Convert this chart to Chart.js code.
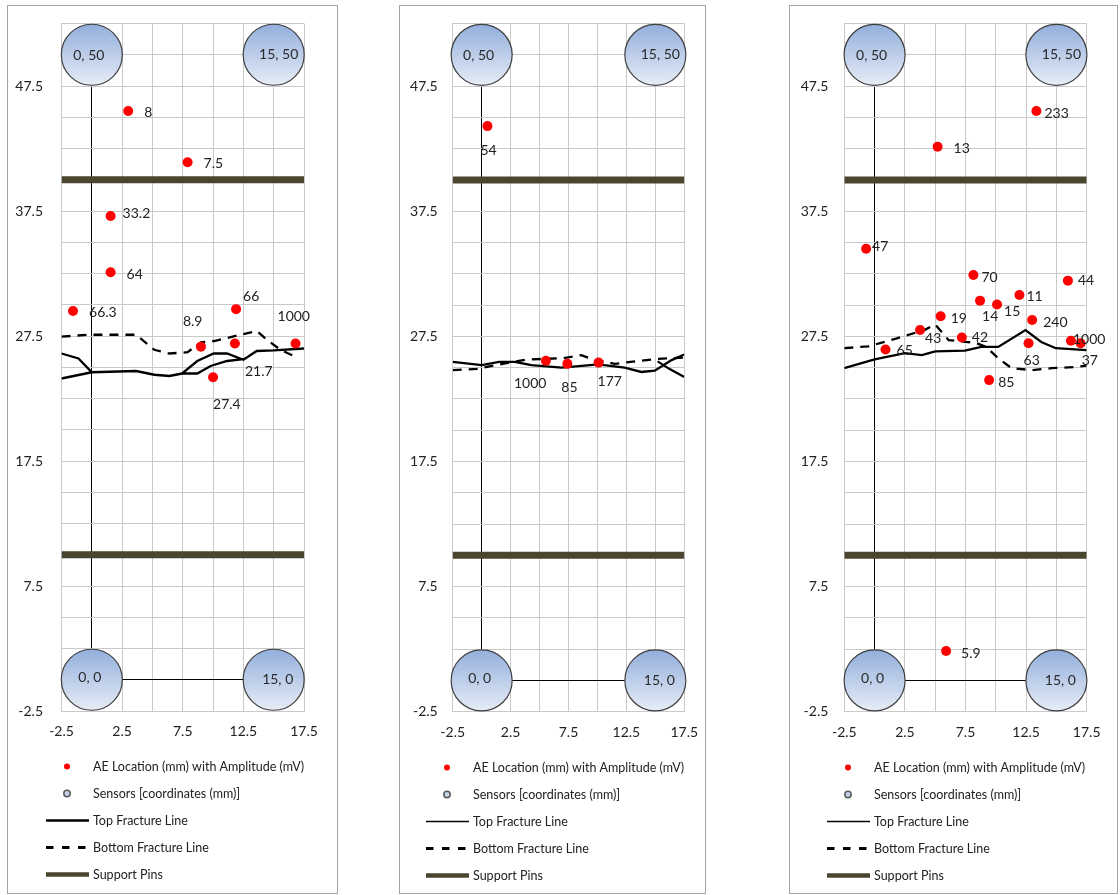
<!DOCTYPE html>
<html>
<head>
<meta charset="utf-8">
<title>AE locations and fracture lines</title>
<script src="https://cdn.jsdelivr.net/npm/chart.js@4.4.1/dist/chart.umd.min.js"></script>
<style>
  html, body { margin: 0; padding: 0; background: #ffffff; }
  .panel { position: absolute; box-sizing: border-box; border: 1px solid #a3a3a3; background: #fff; }
  .panel canvas { position: absolute; left: 0; top: 0; }
</style>
</head>
<body>
<div class="panel" style="left:7px;top:5px;width:331px;height:889px"><canvas id="c1" width="329" height="887"></canvas></div>
<div class="panel" style="left:399px;top:5px;width:307px;height:889px"><canvas id="c2" width="305" height="887"></canvas></div>
<div class="panel" style="left:789px;top:5px;width:329px;height:889px"><canvas id="c3" width="327" height="887"></canvas></div>
<script>
// ---- shared axis ticks ----
const xTickLabels = ['-2.5', '2.5', '7.5', '12.5', '17.5'];
const yTickLabels = ['-2.5', '7.5', '17.5', '27.5', '37.5', '47.5'];

// ---- sensors (mm) ----
const sensorX = [0, 15, 0, 15];
const sensorY = [50, 50, 0, 0];
const sensorLabels = ['0, 50', '15, 50', '0, 0', '15, 0'];

// ---- support pins (mm): each pin spans the full width ----
const pinXStart = -2.5;
const pinXEnd = 17.5;
const pinY = [40, 10];

// ---- specimen 1 ----
const ae1X = [3.0, 7.9, 1.55, 1.55, -1.55, 11.9, 9.0, 11.8, 16.8, 10.0];
const ae1Y = [45.5, 41.4, 37.1, 32.6, 29.5, 29.65, 26.65, 26.9, 26.9, 24.2];
const ae1Amp = ['8', '7.5', '33.2', '64', '66.3', '66', '8.9', '21.7', '1000', '27.4'];
const top1aX = [-2.5, -1.1, 0, 3.65, 5.15, 6.4, 7.45, 8.7, 10.05, 11.15, 12.5, 13.6, 15.0, 17.5];
const top1aY = [26.1, 25.7, 24.6, 24.7, 24.4, 24.3, 24.5, 25.5, 26.1, 26.1, 25.6, 26.3, 26.35, 26.5];
const top1bX = [-2.5, 0, 3.65, 5.15, 6.4, 7.45, 8.7, 9.8, 11.15, 12.5];
const top1bY = [24.1, 24.6, 24.7, 24.4, 24.3, 24.5, 24.5, 25.1, 25.5, 25.65];
const bot1X = [-2.5, -0.3, 3.65, 5.15, 6.4, 7.9, 9.0, 10.1, 12.25, 13.6, 14.45, 15.55, 16.65];
const bot1Y = [27.45, 27.6, 27.6, 26.4, 26.1, 26.2, 27.0, 27.1, 27.6, 27.9, 27.2, 26.4, 25.9];

// ---- specimen 2 ----
const ae2X = [0.5, 5.55, 7.4, 10.1];
const ae2Y = [44.3, 25.55, 25.3, 25.4];
const ae2Amp = ['54', '1000', '85', '177'];
const top2aX = [-2.5, 0, 1.5, 2.85, 4.3, 6.9, 8.9, 10.05, 12.35, 13.8, 14.95, 16.4, 17.5];
const top2aY = [25.45, 25.2, 25.45, 25.45, 25.2, 25.0, 25.15, 25.25, 25.0, 24.65, 24.75, 25.6, 26.05];
const top2bX = [15.2, 16.2, 17.5];
const top2bY = [25.5, 24.9, 24.25];
const bot2X = [-2.5, -0.4, 1.2, 3.9, 5.5, 7.0, 8.6, 9.8, 11.5, 13.3, 15.2, 17.5];
const bot2Y = [24.8, 24.9, 25.2, 25.65, 25.7, 25.75, 26.0, 25.6, 25.3, 25.5, 25.7, 25.8];

// ---- specimen 3 ----
const ae3X = [13.35, 5.2, -0.7, 8.15, 15.95, 11.95, 8.7, 10.1, 5.45, 13.0, 3.75, 7.2, 0.9, 12.7, 16.2, 17.0, 9.45, 5.9];
const ae3Y = [45.5, 42.65, 34.5, 32.4, 31.95, 30.8, 30.35, 30.05, 29.1, 28.8, 28.0, 27.4, 26.45, 26.95, 27.15, 26.95, 24.0, 2.35];
const ae3Amp = ['233', '13', '47', '70', '44', '11', '14', '15', '19', '240', '43', '42', '65', '63', '1000', '37', '85', '5.9'];
const top3X = [-2.5, 0, 2.5, 3.9, 5.0, 7.45, 8.8, 10.2, 12.45, 13.75, 14.95, 17.5];
const top3Y = [24.95, 25.65, 26.15, 26.0, 26.3, 26.35, 26.65, 26.65, 28.0, 27.05, 26.55, 26.4];
const bot3X = [-2.5, -0.5, 1.7, 4.1, 5.0, 6.1, 7.5, 8.3, 9.2, 10.2, 11.3, 13.0, 14.6, 16.5, 17.5];
const bot3Y = [26.55, 26.7, 27.3, 28.0, 28.45, 27.2, 27.05, 27.0, 26.65, 25.75, 24.95, 24.8, 24.95, 25.05, 25.15];

// ---- label placement (text left edge / middle, px from the marker) ----
const ae1LabelOffsets = [[16,1],[16,1],[12,-3],[16,2],[16,1],[7,-13],[-18,-25],[10,28],[-18,-27],[0,27]];
const ae2LabelOffsets = [[-7,24],[-32,23],[-6,24],[-1,19]];
const ae3LabelOffsets = [[8,2],[16,2],[6,-2],[8,2],[10,0],[7,1],[2,16],[7,7],[10,2],[11,2],[5,8],[10,0],[11,1],[-5,17],[2,-1],[1,17],[9,2],[15,2]];
const sensorLabelOffsets = [[-3,1],[5,0],[-2,-2],[4,0]];

const FONT = 'Lato, "Open Sans", "DejaVu Sans", sans-serif';
const TEXT = '#222222';
const GRID = '#c9c9c9';
const PIN = '#4a452e';

function pts(xs, ys) { return xs.map((x, i) => ({ x: x, y: ys[i] })); }
function joinPaths(...paths) {
  const out = [];
  paths.forEach((p, i) => { if (i) out.push({ x: null, y: null }); out.push(...p); });
  return out;
}

// draws amplitude and coordinate texts next to their markers
const markerTexts = {
  id: 'markerTexts',
  afterDatasetsDraw(chart) {
    const ctx = chart.ctx;
    chart.data.datasets.forEach((ds, di) => {
      if (!ds.markerTexts) return;
      const meta = chart.getDatasetMeta(di);
      ctx.save();
      ctx.font = '14px ' + FONT;
      ctx.fillStyle = ds.markerTextColor || TEXT;
      ctx.textAlign = ds.markerTextAlign || 'left';
      ctx.textBaseline = 'middle';
      meta.data.forEach((el, i) => {
        const off = ds.markerTextOffsets[i];
        ctx.fillText(ds.markerTexts[i], el.x + off[0], el.y + off[1]);
      });
      ctx.restore();
    });
  }
};

// one legend entry per row, below the plot
const rowLegend = {
  id: 'rowLegend',
  afterDraw(chart, args, opts) {
    const { ctx, chartArea } = chart;
    const items = chart.data.datasets.filter(d => d.legendText)
      .sort((a, b) => a.legendRank - b.legendRank);
    ctx.save();
    ctx.font = '12.5px ' + FONT;
    const maxW = Math.max(...items.map(d => ctx.measureText(d.legendText).width));
    const symW = 43, gap = 4;
    const left = Math.round((chart.width - (symW + gap + maxW)) / 2) + (opts.shift || 0);
    items.forEach((d, i) => {
      const y = Math.round(chartArea.bottom + 55 + i * 27) + 0.5;
      ctx.save();
      if (d.legendSymbol === 'dot') {
        ctx.fillStyle = d.backgroundColor;
        ctx.beginPath(); ctx.arc(left + 21, y, 3, 0, Math.PI * 2); ctx.fill();
      } else if (d.legendSymbol === 'sensor') {
        ctx.fillStyle = '#c3d0e8'; ctx.strokeStyle = '#5a5a5a'; ctx.lineWidth = 1.5;
        ctx.beginPath(); ctx.arc(left + 21, y, 3.2, 0, Math.PI * 2); ctx.fill(); ctx.stroke();
      } else {
        ctx.strokeStyle = d.borderColor;
        ctx.lineWidth = d.legendLineWidth || d.borderWidth;
        ctx.setLineDash(d.legendDash || d.borderDash || []);
        ctx.beginPath(); ctx.moveTo(left, y); ctx.lineTo(left + symW, y); ctx.stroke();
      }
      ctx.restore();
      ctx.fillStyle = TEXT;
      ctx.textBaseline = 'middle';
      ctx.textAlign = 'left';
      ctx.fillText(d.legendText, left + symW + gap, y);
    });
    ctx.restore();
  }
};

function sensorFill(c) {
  const fallback = '#b9c9e6';
  if (c.type !== 'data' || !c.parsed) return fallback;
  const chart = c.chart;
  const ys = chart.scales && chart.scales.y;
  if (!ys) return fallback;
  const py = ys.getPixelForValue(c.parsed.y);
  if (!Number.isFinite(py)) return fallback;
  const g = chart.ctx.createLinearGradient(0, py - 30, 0, py + 30);
  g.addColorStop(0, '#93afdc');
  g.addColorStop(1, '#e6ecf6');
  return g;
}

function makePanel(id, p) {
  const tickFont = { family: FONT, size: 14 };
  const datasets = [
    {
      label: 'AE', legendText: 'AE Location (mm) with Amplitude (mV)', legendRank: 0, legendSymbol: 'dot',
      data: pts(p.aeX, p.aeY), backgroundColor: '#ff0000', borderWidth: 0,
      pointRadius: 5, pointHoverRadius: 5, order: 1,
      markerTexts: p.aeAmp, markerTextOffsets: p.aeOffsets
    },
    {
      label: 'Sensors', legendText: 'Sensors [coordinates (mm)]', legendRank: 1, legendSymbol: 'sensor',
      data: pts(sensorX, sensorY), backgroundColor: sensorFill, borderColor: '#3f3f3f', borderWidth: 1.2,
      pointRadius: 30.5, pointHoverRadius: 30.5, order: 2, clip: false,
      markerTexts: sensorLabels, markerTextOffsets: sensorLabelOffsets, markerTextAlign: 'center', markerTextColor: '#2a2a2a'
    },
    {
      label: 'Top', legendText: 'Top Fracture Line', legendRank: 2, legendSymbol: 'line', legendLineWidth: p.topLegendWidth,
      data: p.top, showLine: true, spanGaps: false, borderColor: '#000000', borderWidth: 2.3,
      pointRadius: 0, pointHoverRadius: 0, tension: 0, order: 3
    },
    {
      label: 'Bottom', legendText: 'Bottom Fracture Line', legendRank: 3, legendSymbol: 'line', legendLineWidth: 3, legendDash: [7.5, 8.5],
      data: p.bottom, showLine: true, borderColor: '#000000', borderWidth: 2.3, borderDash: [9, 7],
      pointRadius: 0, pointHoverRadius: 0, tension: 0, order: 4
    },
    {
      label: 'Pins', legendText: 'Support Pins', legendRank: 4, legendSymbol: 'line', legendLineWidth: 4.5,
      data: joinPaths(...pinY.map(y => [{ x: pinXStart, y: y }, { x: pinXEnd, y: y }])),
      showLine: true, spanGaps: false, borderColor: PIN, borderWidth: 7, borderCapStyle: 'butt',
      pointRadius: 0, pointHoverRadius: 0, order: 5
    }
  ];
  return new Chart(document.getElementById(id), {
    type: 'scatter',
    data: { datasets: datasets },
    plugins: [markerTexts, rowLegend],
    options: {
      responsive: false,
      animation: false,
      events: [],
      layout: { autoPadding: false, padding: { left: 0, top: p.padTop, right: p.padRight, bottom: p.padBottom } },
      plugins: { legend: { display: false }, tooltip: { enabled: false }, rowLegend: { shift: 3 } },
      scales: {
        x: {
          type: 'linear', min: -2.5, max: 17.5,
          ticks: {
            stepSize: 2.5, autoSkip: false, maxRotation: 0, padding: 12, font: tickFont, color: TEXT,
            callback: v => xTickLabels.includes(v.toFixed(1)) ? v.toFixed(1) : ''
          },
          grid: { drawTicks: false, lineWidth: 1, color: c => (c.tick && c.tick.value === 0) ? '#000000' : GRID },
          border: { color: GRID },
          afterFit: s => { s.height = 28; s.paddingLeft = 0; s.paddingRight = 0; }
        },
        y: {
          type: 'linear', min: -2.5, max: 52.5,
          ticks: {
            stepSize: 2.5, autoSkip: false, padding: p.yPad, font: tickFont, color: TEXT,
            callback: v => yTickLabels.includes(v.toFixed(1)) ? v.toFixed(1) : ''
          },
          grid: { drawTicks: false, lineWidth: 1, color: c => (c.tick && c.tick.value === 0) ? '#000000' : GRID },
          border: { color: GRID },
          afterFit: s => { s.width = p.yWidth; s.paddingTop = 0; s.paddingBottom = 0; }
        }
      }
    }
  });
}

makePanel('c1', {
  aeX: ae1X, aeY: ae1Y, aeAmp: ae1Amp, aeOffsets: ae1LabelOffsets,
  top: joinPaths(pts(top1aX, top1aY), pts(top1bX, top1bY)),
  bottom: pts(bot1X, bot1Y), topLegendWidth: 2.6,
  yWidth: 53.5, yPad: 18.5, padTop: 17.5, padRight: 33, padBottom: 154
});
makePanel('c2', {
  aeX: ae2X, aeY: ae2Y, aeAmp: ae2Amp, aeOffsets: ae2LabelOffsets,
  top: joinPaths(pts(top2aX, top2aY), pts(top2bX, top2bY)),
  bottom: pts(bot2X, bot2Y), topLegendWidth: 1.3,
  yWidth: 52.7, yPad: 15, padTop: 17.5, padRight: 20.7, padBottom: 153.3
});
makePanel('c3', {
  aeX: ae3X, aeY: ae3Y, aeAmp: ae3Amp, aeOffsets: ae3LabelOffsets,
  top: pts(top3X, top3Y),
  bottom: pts(bot3X, bot3Y), topLegendWidth: 1.3,
  yWidth: 54.3, yPad: 16, padTop: 17.5, padRight: 30.3, padBottom: 153.3
});
</script>
</body>
</html>
